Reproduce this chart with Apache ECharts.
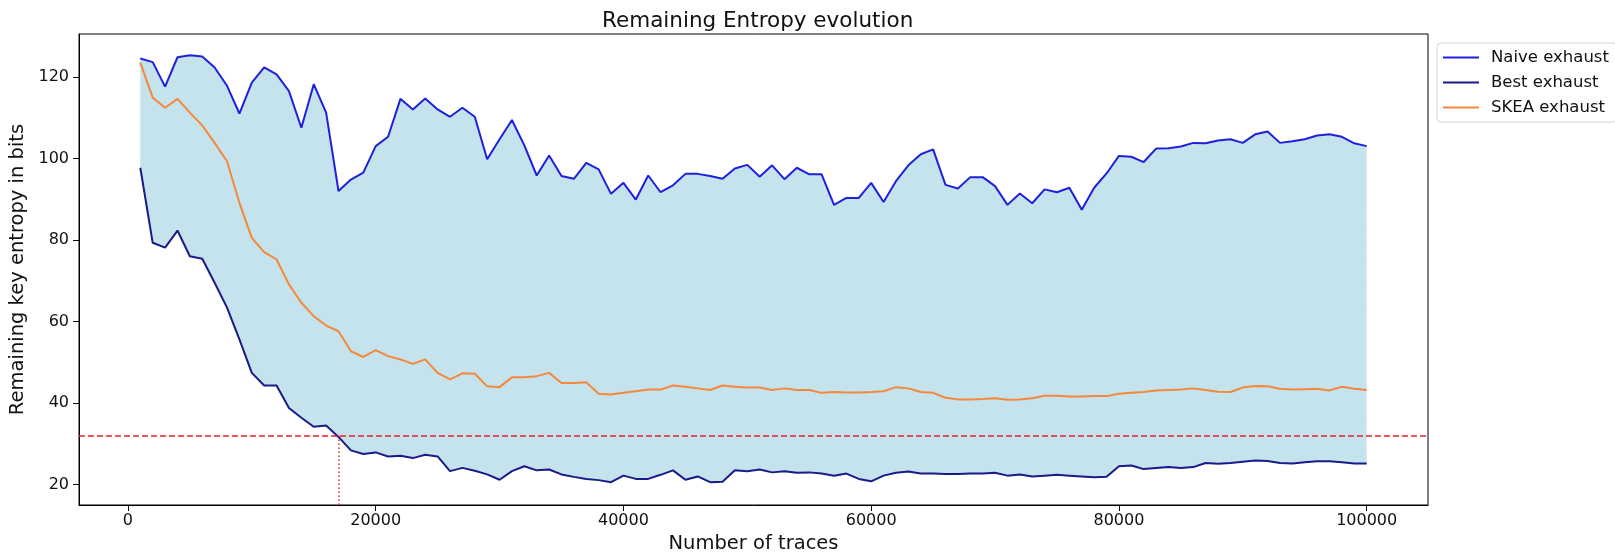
<!DOCTYPE html>
<html>
<head>
<meta charset="utf-8">
<script src="https://cdn.jsdelivr.net/npm/echarts@6/dist/echarts.min.js"></script>
<style>
html,body{margin:0;padding:0;background:#fff;}
#chart{width:1615px;height:554px;}
</style>
</head>
<body>
<div id="chart"></div>
<script>
const traces = [1000,2000,3000,4000,5000,6000,7000,8000,9000,10000,
11000,12000,13000,14000,15000,16000,17000,18000,19000,20000,
21000,22000,23000,24000,25000,26000,27000,28000,29000,30000,
31000,32000,33000,34000,35000,36000,37000,38000,39000,40000,
41000,42000,43000,44000,45000,46000,47000,48000,49000,50000,
51000,52000,53000,54000,55000,56000,57000,58000,59000,60000,
61000,62000,63000,64000,65000,66000,67000,68000,69000,70000,
71000,72000,73000,74000,75000,76000,77000,78000,79000,80000,
81000,82000,83000,84000,85000,86000,87000,88000,89000,90000,
91000,92000,93000,94000,95000,96000,97000,98000,99000,100000];

const naiveExhaust = [124.5,123.6,117.6,124.8,125.3,125.0,122.3,117.8,111.0,118.6,
122.3,120.6,116.5,107.5,118.2,111.2,92.0,94.8,96.5,103.0,
105.3,114.6,112.0,114.7,112.0,110.2,112.4,110.2,99.8,104.7,
109.4,103.2,95.8,100.7,95.7,95.0,98.9,97.3,91.3,94.0,
89.9,95.8,91.7,93.4,96.2,96.2,95.7,95.0,97.5,98.4,
95.5,98.3,94.9,97.7,96.1,96.1,88.6,90.3,90.3,94.0,
89.3,94.4,98.3,101.0,102.2,93.5,92.6,95.4,95.4,93.2,
88.6,91.4,89.0,92.4,91.7,92.8,87.4,92.8,96.3,100.6,
100.4,99.1,102.4,102.5,102.9,103.8,103.7,104.4,104.7,103.8,
105.9,106.6,103.8,104.2,104.7,105.6,105.9,105.3,103.7,103.0];

const bestExhaust = [97.7,79.3,78.1,82.3,76.0,75.4,69.5,63.4,55.6,47.4,
44.3,44.3,38.8,36.4,34.2,34.5,31.7,28.4,27.5,27.9,
26.9,27.1,26.5,27.3,26.9,23.3,24.1,23.4,22.5,21.2,
23.3,24.5,23.5,23.7,22.5,21.9,21.4,21.1,20.6,22.2,
21.4,21.4,22.4,23.5,21.2,22.0,20.6,20.7,23.5,23.3,
23.7,23.0,23.3,22.9,23.0,22.7,22.2,22.7,21.4,20.8,
22.2,22.9,23.2,22.7,22.7,22.6,22.6,22.7,22.7,22.9,
22.2,22.5,22.0,22.2,22.4,22.2,22.0,21.8,21.9,24.5,
24.7,23.8,24.1,24.3,24.1,24.3,25.3,25.1,25.3,25.6,
25.9,25.8,25.3,25.2,25.5,25.7,25.7,25.5,25.2,25.2];

const skeaExhaust = [123.5,114.9,112.4,114.6,111.2,108.1,103.8,99.3,89.1,80.5,
77.0,75.2,69.1,64.6,61.3,59.0,57.6,52.7,51.3,53.0,
51.5,50.7,49.6,50.7,47.4,45.8,47.3,47.2,44.1,43.9,
46.3,46.3,46.6,47.4,44.9,44.9,45.1,42.3,42.1,42.5,
42.9,43.3,43.3,44.3,44.0,43.6,43.2,44.3,44.0,43.8,
43.8,43.2,43.6,43.2,43.2,42.5,42.7,42.6,42.6,42.7,
42.9,43.9,43.6,42.7,42.5,41.3,40.9,40.9,41.0,41.2,
40.8,40.9,41.2,41.8,41.8,41.6,41.6,41.7,41.7,42.3,
42.5,42.7,43.1,43.2,43.3,43.6,43.2,42.8,42.7,43.8,
44.2,44.1,43.5,43.3,43.4,43.5,43.1,44.0,43.5,43.2];

const xTicks = [0, 20000, 40000, 60000, 80000, 100000];
const yTicks = [20, 40, 60, 80, 100, 120];
const threshold = 32;
const crossTraces = 17000;
const xRange = [-3950, 104950];
const yRange = [15, 130.5];

const FONT = 'DejaVu Sans';
const C_NAIVE = '#2020dc';
const C_BEST = '#1a1a88';
const C_SKEA = '#f5883a';
const C_RED = '#e8202a';
const C_FILL = 'rgba(173,216,230,0.72)';

const pairs = (ys) => traces.map((x, i) => [x, ys[i]]);

const chart = echarts.init(document.getElementById('chart'), null, {renderer: 'canvas'});
chart.setOption({
  animation: false,
  backgroundColor: '#ffffff',
  title: {
    text: 'Remaining Entropy evolution',
    left: 597, top: 5,
    textStyle: {fontFamily: FONT, fontSize: 21.5, fontWeight: 'normal', color: '#111'}
  },
  legend: {
    orient: 'vertical',
    left: 1437, top: 43,
    data: ['Naive exhaust', 'Best exhaust', 'SKEA exhaust'],
    icon: 'rect',
    itemWidth: 36, itemHeight: 2.2,
    itemGap: 8,
    padding: [6, 8, 6, 6],
    backgroundColor: 'rgba(255,255,255,0.85)',
    borderColor: '#d4d4d4', borderWidth: 1, borderRadius: 4,
    textStyle: {fontFamily: FONT, fontSize: 16.5, color: '#111', lineHeight: 17, padding: [0, 0, 0, 7]}
  },
  grid: {
    left: 79, right: 187, top: 34, bottom: 49,
    show: true, borderColor: '#000', borderWidth: 1,
    containLabel: false, outerBoundsMode: 'none'
  },
  xAxis: {
    type: 'value', min: xRange[0], max: xRange[1],
    name: 'Number of traces', nameLocation: 'middle', nameGap: 27,
    nameTextStyle: {fontFamily: FONT, fontSize: 19.5, color: '#111'},
    axisLine: {show: true, onZero: false, lineStyle: {color: '#000', width: 1}},
    axisTick: {show: true, inside: false, length: 6, customValues: xTicks, lineStyle: {color: '#000'}},
    axisLabel: {margin: 8, customValues: xTicks, formatter: (v) => String(v),
      fontFamily: FONT, fontSize: 16, color: '#111'},
    splitLine: {show: false}
  },
  yAxis: {
    type: 'value', min: yRange[0], max: yRange[1],
    name: 'Remaining key entropy in bits', nameLocation: 'middle', nameGap: 38,
    nameTextStyle: {fontFamily: FONT, fontSize: 19.5, color: '#111'},
    axisLine: {show: true, onZero: false, lineStyle: {color: '#000', width: 1}},
    axisTick: {show: true, inside: false, length: 6, customValues: yTicks, lineStyle: {color: '#000'}},
    axisLabel: {margin: 10, customValues: yTicks, formatter: (v) => String(v),
      fontFamily: FONT, fontSize: 16, color: '#111'},
    splitLine: {show: false}
  },
  series: [
    {
      name: 'band', type: 'custom', silent: true, z: 1,
      data: [[traces[0], naiveExhaust[0]]],
      renderItem: function (params, api) {
        const upper = traces.map((x, i) => api.coord([x, naiveExhaust[i]]));
        const lower = traces.map((x, i) => api.coord([x, bestExhaust[i]])).reverse();
        return {
          type: 'polygon',
          shape: {points: upper.concat(lower)},
          style: {fill: C_FILL, stroke: null}
        };
      }
    },
    {
      name: 'Naive exhaust', type: 'line', data: pairs(naiveExhaust), symbol: 'none', z: 3,
      lineStyle: {color: C_NAIVE, width: 2}, itemStyle: {color: C_NAIVE}
    },
    {
      name: 'Best exhaust', type: 'line', data: pairs(bestExhaust), symbol: 'none', z: 3,
      lineStyle: {color: C_BEST, width: 2}, itemStyle: {color: C_BEST}
    },
    {
      name: 'SKEA exhaust', type: 'line', data: pairs(skeaExhaust), symbol: 'none', z: 3,
      lineStyle: {color: C_SKEA, width: 2}, itemStyle: {color: C_SKEA}
    },
    {
      name: 'threshold', type: 'line', data: [], symbol: 'none', z: 4,
      markLine: {
        silent: true, symbol: ['none', 'none'], label: {show: false},
        animation: false,
        data: [
          {yAxis: threshold, lineStyle: {color: C_RED, width: 1.6, type: [6, 3]}},
          [
            {coord: [crossTraces, yRange[0]], lineStyle: {color: C_RED, width: 1.5, type: [1.5, 2.5]}},
            {coord: [crossTraces, threshold]}
          ]
        ]
      }
    }
  ]
});
</script>
</body>
</html>
